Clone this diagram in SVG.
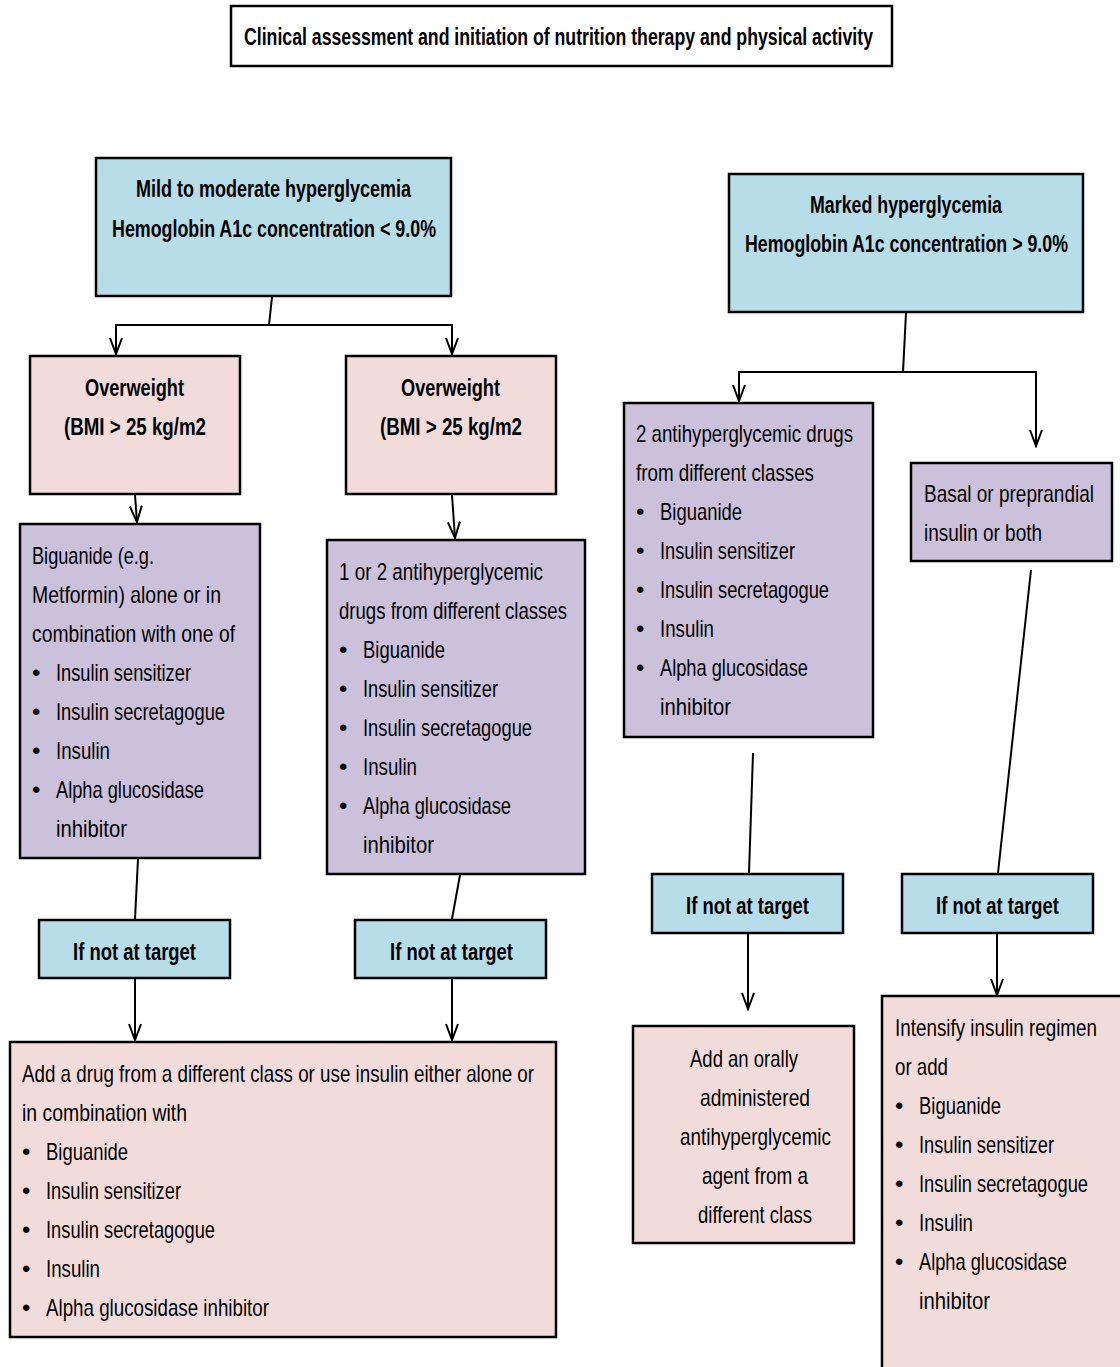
<svg xmlns="http://www.w3.org/2000/svg" width="1120" height="1367" viewBox="0 0 1120 1367">
<defs>
<marker id="arr" markerUnits="userSpaceOnUse" markerWidth="20" markerHeight="16" viewBox="-2 -8 20 16" refX="16" refY="0" orient="auto">
<path d="M0,-6 L16,0 L0,6" fill="none" stroke="#000" stroke-width="2"/>
</marker>
</defs>
<style>
.box{stroke:#000;stroke-width:2.5}
.blue{fill:#B7DDE8}
.pink{fill:#F2DCDB}
.purple{fill:#CCC1DA}
.white{fill:#fff}
text{font-family:"Liberation Sans",Arial,sans-serif;font-size:24px;fill:#000}
.b{font-weight:bold}
.c{text-anchor:middle}
.ln{stroke:#000;stroke-width:2;fill:none}
</style>
<rect width="1120" height="1367" fill="#fff"/>

<g id="title">
<rect class="box white" x="231" y="6" width="661" height="60"/>
<text class="b" x="244" y="45" textLength="629" lengthAdjust="spacingAndGlyphs">Clinical assessment and initiation of nutrition therapy and physical activity</text>
</g>

<g id="mild">
<rect class="box blue" x="96" y="158" width="355" height="138"/>
<text class="b" x="136" y="197" textLength="275" lengthAdjust="spacingAndGlyphs">Mild to moderate hyperglycemia</text>
<text class="b" x="112" y="237" textLength="324" lengthAdjust="spacingAndGlyphs">Hemoglobin A1c concentration &lt; 9.0%</text>
</g>

<g id="marked">
<rect class="box blue" x="729" y="174" width="354" height="138"/>
<text class="b" x="810" y="213" textLength="192" lengthAdjust="spacingAndGlyphs">Marked hyperglycemia</text>
<text class="b" x="745" y="252" textLength="323" lengthAdjust="spacingAndGlyphs">Hemoglobin A1c concentration &gt; 9.0%</text>
</g>

<g id="overweight1">
<rect class="box pink" x="30" y="356" width="210" height="138"/>
<text class="b" x="85" y="396" textLength="99" lengthAdjust="spacingAndGlyphs">Overweight</text>
<text class="b" x="64" y="435" textLength="142" lengthAdjust="spacingAndGlyphs">(BMI &gt; 25 kg/m2</text>
</g>

<g id="overweight2">
<rect class="box pink" x="346" y="356" width="210" height="138"/>
<text class="b" x="401" y="396" textLength="99" lengthAdjust="spacingAndGlyphs">Overweight</text>
<text class="b" x="380" y="435" textLength="142" lengthAdjust="spacingAndGlyphs">(BMI &gt; 25 kg/m2</text>
</g>

<g id="biguanide">
<rect class="box purple" x="20" y="524" width="240" height="334"/>
<text x="32" y="564" textLength="122" lengthAdjust="spacingAndGlyphs">Biguanide (e.g.</text>
<text x="32" y="603" textLength="189" lengthAdjust="spacingAndGlyphs">Metformin) alone or in</text>
<text x="32" y="642" textLength="203" lengthAdjust="spacingAndGlyphs">combination with one of</text>
<text x="32" y="681">•</text><text x="56" y="681" textLength="135" lengthAdjust="spacingAndGlyphs">Insulin sensitizer</text>
<text x="32" y="720">•</text><text x="56" y="720" textLength="169" lengthAdjust="spacingAndGlyphs">Insulin secretagogue</text>
<text x="32" y="759">•</text><text x="56" y="759" textLength="54" lengthAdjust="spacingAndGlyphs">Insulin</text>
<text x="32" y="798">•</text><text x="56" y="798" textLength="148" lengthAdjust="spacingAndGlyphs">Alpha glucosidase</text>
<text x="56" y="837" textLength="71" lengthAdjust="spacingAndGlyphs">inhibitor</text>
</g>

<g id="oneortwo">
<rect class="box purple" x="327" y="540" width="258" height="334"/>
<text x="339" y="580" textLength="204" lengthAdjust="spacingAndGlyphs">1 or 2 antihyperglycemic</text>
<text x="339" y="619" textLength="228" lengthAdjust="spacingAndGlyphs">drugs from different classes</text>
<text x="339" y="658">•</text><text x="363" y="658" textLength="82" lengthAdjust="spacingAndGlyphs">Biguanide</text>
<text x="339" y="697">•</text><text x="363" y="697" textLength="135" lengthAdjust="spacingAndGlyphs">Insulin sensitizer</text>
<text x="339" y="736">•</text><text x="363" y="736" textLength="169" lengthAdjust="spacingAndGlyphs">Insulin secretagogue</text>
<text x="339" y="775">•</text><text x="363" y="775" textLength="54" lengthAdjust="spacingAndGlyphs">Insulin</text>
<text x="339" y="814">•</text><text x="363" y="814" textLength="148" lengthAdjust="spacingAndGlyphs">Alpha glucosidase</text>
<text x="363" y="853" textLength="71" lengthAdjust="spacingAndGlyphs">inhibitor</text>
</g>

<g id="twodrugs">
<rect class="box purple" x="624" y="403" width="249" height="334"/>
<text x="636" y="442" textLength="217" lengthAdjust="spacingAndGlyphs">2 antihyperglycemic drugs</text>
<text x="636" y="481" textLength="178" lengthAdjust="spacingAndGlyphs">from different classes</text>
<text x="636" y="520">•</text><text x="660" y="520" textLength="82" lengthAdjust="spacingAndGlyphs">Biguanide</text>
<text x="636" y="559">•</text><text x="660" y="559" textLength="135" lengthAdjust="spacingAndGlyphs">Insulin sensitizer</text>
<text x="636" y="598">•</text><text x="660" y="598" textLength="169" lengthAdjust="spacingAndGlyphs">Insulin secretagogue</text>
<text x="636" y="637">•</text><text x="660" y="637" textLength="54" lengthAdjust="spacingAndGlyphs">Insulin</text>
<text x="636" y="676">•</text><text x="660" y="676" textLength="148" lengthAdjust="spacingAndGlyphs">Alpha glucosidase</text>
<text x="660" y="715" textLength="71" lengthAdjust="spacingAndGlyphs">inhibitor</text>
</g>

<g id="basal">
<rect class="box purple" x="911" y="463" width="201" height="98"/>
<text x="924" y="502" textLength="170" lengthAdjust="spacingAndGlyphs">Basal  or preprandial</text>
<text x="924" y="541" textLength="118" lengthAdjust="spacingAndGlyphs">insulin or both</text>
</g>

<g id="target1">
<rect class="box blue" x="39" y="920" width="191" height="58"/>
<text class="b" x="73" y="960" textLength="123" lengthAdjust="spacingAndGlyphs">If not at target</text>
</g>
<g id="target2">
<rect class="box blue" x="355" y="920" width="191" height="58"/>
<text class="b" x="390" y="960" textLength="123" lengthAdjust="spacingAndGlyphs">If not at target</text>
</g>
<g id="target3">
<rect class="box blue" x="652" y="874" width="191" height="59"/>
<text class="b" x="686" y="914" textLength="123" lengthAdjust="spacingAndGlyphs">If not at target</text>
</g>
<g id="target4">
<rect class="box blue" x="902" y="874" width="191" height="59"/>
<text class="b" x="936" y="914" textLength="123" lengthAdjust="spacingAndGlyphs">If not at target</text>
</g>

<g id="adddrug">
<rect class="box pink" x="10" y="1042" width="546" height="295"/>
<text x="22" y="1082" textLength="512" lengthAdjust="spacingAndGlyphs">Add a drug from a different class or use insulin either alone or</text>
<text x="22" y="1121" textLength="165" lengthAdjust="spacingAndGlyphs">in combination with</text>
<text x="22" y="1160">•</text><text x="46" y="1160" textLength="82" lengthAdjust="spacingAndGlyphs">Biguanide</text>
<text x="22" y="1199">•</text><text x="46" y="1199" textLength="135" lengthAdjust="spacingAndGlyphs">Insulin sensitizer</text>
<text x="22" y="1238">•</text><text x="46" y="1238" textLength="169" lengthAdjust="spacingAndGlyphs">Insulin secretagogue</text>
<text x="22" y="1277">•</text><text x="46" y="1277" textLength="54" lengthAdjust="spacingAndGlyphs">Insulin</text>
<text x="22" y="1316">•</text><text x="46" y="1316" textLength="223" lengthAdjust="spacingAndGlyphs">Alpha glucosidase inhibitor</text>
</g>

<g id="addoral">
<rect class="box pink" x="633" y="1026" width="221" height="217"/>
<text x="690" y="1067" textLength="108" lengthAdjust="spacingAndGlyphs">Add an orally</text>
<text x="700" y="1106" textLength="110" lengthAdjust="spacingAndGlyphs">administered</text>
<text x="680" y="1145" textLength="151" lengthAdjust="spacingAndGlyphs">antihyperglycemic</text>
<text x="702" y="1184" textLength="106" lengthAdjust="spacingAndGlyphs">agent from a</text>
<text x="698" y="1223" textLength="114" lengthAdjust="spacingAndGlyphs">different class</text>
</g>

<g id="intensify">
<rect class="box pink" x="882" y="996" width="260" height="400"/>
<text x="895" y="1036" textLength="202" lengthAdjust="spacingAndGlyphs">Intensify insulin regimen</text>
<text x="895" y="1075" textLength="53" lengthAdjust="spacingAndGlyphs">or add</text>
<text x="895" y="1114">•</text><text x="919" y="1114" textLength="82" lengthAdjust="spacingAndGlyphs">Biguanide</text>
<text x="895" y="1153">•</text><text x="919" y="1153" textLength="135" lengthAdjust="spacingAndGlyphs">Insulin sensitizer</text>
<text x="895" y="1192">•</text><text x="919" y="1192" textLength="169" lengthAdjust="spacingAndGlyphs">Insulin secretagogue</text>
<text x="895" y="1231">•</text><text x="919" y="1231" textLength="54" lengthAdjust="spacingAndGlyphs">Insulin</text>
<text x="895" y="1270">•</text><text x="919" y="1270" textLength="148" lengthAdjust="spacingAndGlyphs">Alpha glucosidase</text>
<text x="919" y="1309" textLength="71" lengthAdjust="spacingAndGlyphs">inhibitor</text>
</g>

<g id="connectors">
<path class="ln" d="M272,297 L269,325"/>
<path class="ln" d="M269,325 L116,325 L116,354" marker-end="url(#arr)"/>
<path class="ln" d="M269,325 L452,325 L452,354" marker-end="url(#arr)"/>
<path class="ln" d="M135,495 L137,522" marker-end="url(#arr)"/>
<path class="ln" d="M452,495 L455,538" marker-end="url(#arr)"/>
<path class="ln" d="M138,859 L135,919"/>
<path class="ln" d="M460,875 L452,919"/>
<path class="ln" d="M135,979 L135,1040" marker-end="url(#arr)"/>
<path class="ln" d="M452,979 L452,1040" marker-end="url(#arr)"/>
<path class="ln" d="M906,313 L903,372"/>
<path class="ln" d="M903,372 L739,372 L739,401" marker-end="url(#arr)"/>
<path class="ln" d="M903,372 L1036,372 L1036,446" marker-end="url(#arr)"/>
<path class="ln" d="M753,753 L749,873"/>
<path class="ln" d="M748,934 L748,1009" marker-end="url(#arr)"/>
<path class="ln" d="M1031,570 L998,873"/>
<path class="ln" d="M997,934 L997,995" marker-end="url(#arr)"/>
</g>
</svg>
